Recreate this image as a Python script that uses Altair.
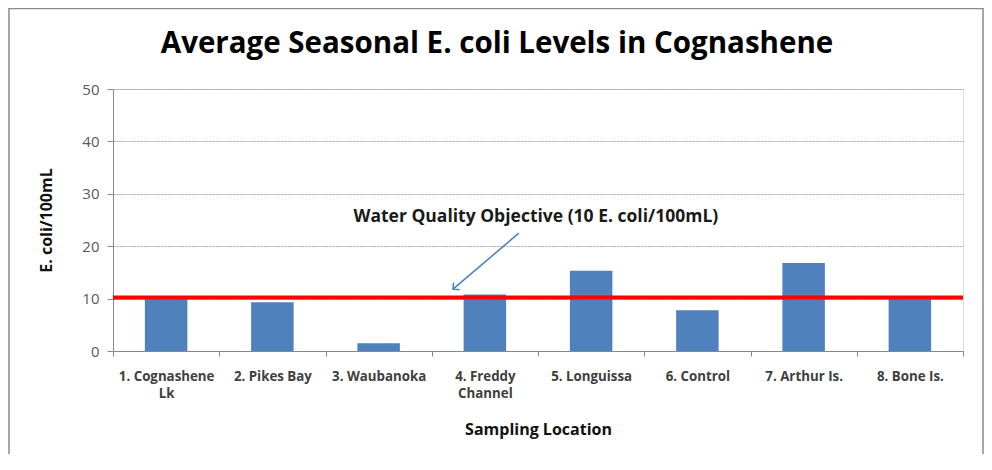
import altair as alt
import pandas as pd

title_text = ["Average Seasonal E. coli Levels in Cognashene"]
categories = ["1. Cognashene\nLk", "2. Pikes Bay", "3. Waubanoka", "4. Freddy\nChannel",
              "5. Longuissa", "6. Control", "7. Arthur Is.", "8. Bone Is."]
values = [10.0, 9.3, 1.5, 10.8, 15.3, 7.8, 16.8, 10.0]
objective = [10.2]
y_ticks = [0, 10, 20, 30, 40, 50]

ann_text = ["Water Quality Objective (10 E. coli/100mL)"]
ann_text_x = [3.98]
ann_text_y = [25.6]
arrow_x = [3.82]
arrow_y = [22.5]
arrow_x2 = [3.2]
arrow_y2 = [11.8]

FONT = "Open Sans"
W, H = 850, 262
YT = "E. coli/100mL"

df = pd.DataFrame({"loc": categories, "val": values})
yscale = alt.Scale(domain=[0, 50], nice=False)

bars = alt.Chart(df).mark_bar(color="#4f81bd", width=alt.RelativeBandSize(0.4)).encode(
    x=alt.X("loc:N", sort=None, scale=alt.Scale(paddingInner=0, paddingOuter=0),
            axis=alt.Axis(title="Sampling Location", labelAngle=0, tickBand="extent",
                          labelExpr="split(datum.label, '\\n')", labelFont=FONT,
                          labelFontSize=13.3, labelFontWeight="bold", labelColor="#404040",
                          labelPadding=13, labelLineHeight=17, titleFont=FONT, titleFontSize=16,
                          titleFontWeight="bold", titleColor="#111111", titlePadding=22,
                          domainColor="#888888", tickColor="#888888", tickSize=5,
                          grid=False)),
    y=alt.Y("val:Q", scale=yscale, title=YT,
            axis=alt.Axis(title=YT, values=y_ticks, labelFont=FONT,
                          labelFontSize=15, labelColor="#595959", labelPadding=8,
                          titleFont=FONT, titleFontSize=16, titleFontWeight="bold",
                          titleColor="#111111", titlePadding=27,
                          domainColor="#888888", tickColor="#888888", tickSize=6,
                          grid=True, gridColor="#a6a6a6", gridDash=[2, 1], gridWidth=1)),
)

rule = alt.Chart(pd.DataFrame({"obj": objective})).mark_rule(color="#ff0000", strokeWidth=4).encode(
    y=alt.Y("obj:Q", scale=yscale, title=YT)
)

xq = alt.Scale(domain=[0, 8], nice=False)

arrow_df = pd.DataFrame({"x": arrow_x, "y": arrow_y, "x2": arrow_x2, "y2": arrow_y2})
arrow_line = alt.Chart(arrow_df).mark_rule(color="#4a7ebb", strokeWidth=1.5).encode(
    x=alt.X("x:Q", scale=xq, axis=None), y=alt.Y("y:Q", scale=yscale, title=YT),
    x2="x2:Q", y2="y2:Q"
)
arrow_head = alt.Chart(arrow_df).mark_point(
    shape="M-1,1L0,0L1,1", filled=False, stroke="#4a7ebb", strokeWidth=1.5, size=90, angle=230,
    opacity=1
).encode(x=alt.X("x2:Q", scale=xq, axis=None), y=alt.Y("y2:Q", scale=yscale, title=YT))

ann_df = pd.DataFrame({"t": ann_text, "x": ann_text_x, "y": ann_text_y})
ann = alt.Chart(ann_df).mark_text(font=FONT, fontSize=17.5, fontWeight="bold", color="#1a1a1a",
                                  align="center", baseline="middle").encode(
    x=alt.X("x:Q", scale=xq, axis=None), y=alt.Y("y:Q", scale=yscale, title=YT), text="t:N"
)

title = alt.Chart(pd.DataFrame({"t": title_text})).mark_text(
    font=FONT, fontSize=29.5, fontWeight="bold", color="#000000", align="center",
    baseline="alphabetic"
).encode(x=alt.value(384), y=alt.value(-36), text="t:N")

frame = alt.Chart(pd.DataFrame({"a": [0]})).mark_rect(
    fill="transparent", stroke="#8c8c8c", strokeWidth=1.5
).encode(x=alt.value(-104), x2=alt.value(870), y=alt.value(-80.5), y2=alt.value(420))

chart = alt.layer(bars, rule, arrow_line, arrow_head, ann, title, frame).resolve_scale(
    x="independent"
).properties(
    width=W, height=H,
    autosize=alt.AutoSizeParams(type="none"),
    padding={"left": 105, "top": 81, "right": 21, "bottom": 103},
).configure_view(stroke=None).configure(background="white")

chart.save("out.html", embed_options={"renderer": "svg", "actions": False})
